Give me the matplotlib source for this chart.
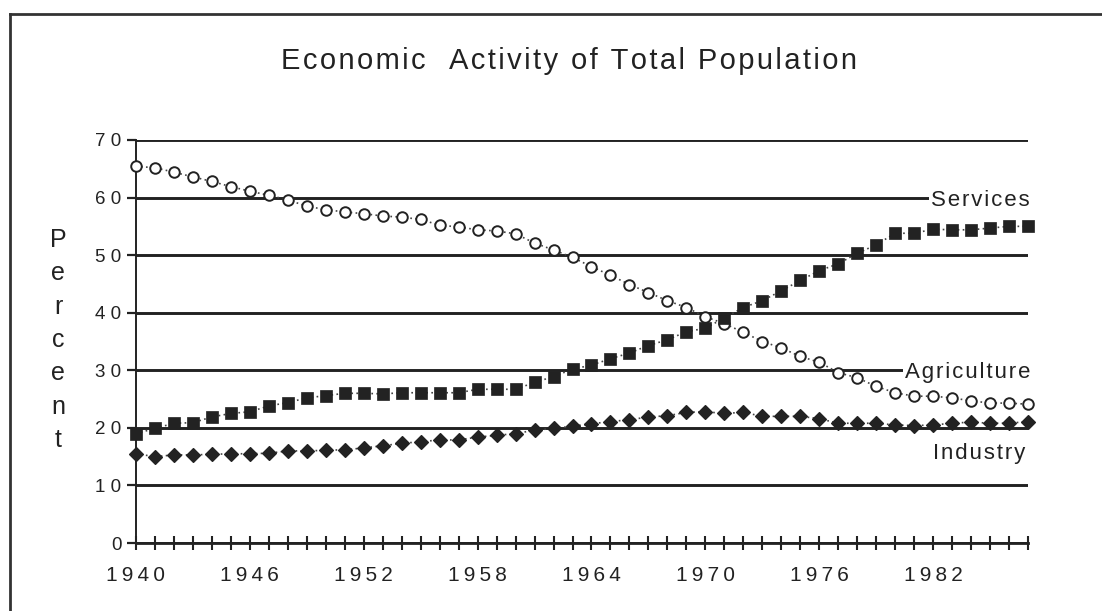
import matplotlib
matplotlib.use("Agg")
import matplotlib.pyplot as plt
from matplotlib.lines import Line2D

years = list(range(1940, 1988))
agriculture = [65.4, 65.2, 64.4, 63.6, 62.8, 61.9, 61.1, 60.4, 59.6, 58.5,
               57.9, 57.5, 57.2, 56.8, 56.6, 56.2, 55.2, 54.9, 54.4, 54.2,
               53.7, 52.1, 50.9, 49.6, 48.0, 46.5, 44.9, 43.5, 42.1, 40.9,
               39.3, 38.1, 36.6, 35.0, 33.9, 32.4, 31.4, 29.6, 28.7, 27.2,
               26.1, 25.5, 25.5, 25.2, 24.7, 24.3, 24.3, 24.1]
services = [19.0, 19.9, 20.8, 20.9, 21.9, 22.5, 22.8, 23.8, 24.4, 25.2,
            25.6, 26.0, 26.0, 25.9, 26.1, 26.1, 26.1, 26.1, 26.7, 26.7,
            26.7, 27.9, 28.9, 30.2, 30.9, 32.0, 33.0, 34.3, 35.3, 36.7,
            37.3, 39.1, 40.9, 42.1, 43.8, 45.6, 47.3, 48.5, 50.3, 51.8,
            53.8, 53.8, 54.5, 54.4, 54.4, 54.7, 55.0, 55.0]
industry = [15.5, 15.0, 15.3, 15.3, 15.4, 15.5, 15.5, 15.6, 16.0, 16.0,
            16.1, 16.2, 16.5, 16.9, 17.3, 17.6, 17.9, 17.9, 18.4, 18.7,
            19.0, 19.6, 19.9, 20.3, 20.7, 21.1, 21.4, 21.9, 22.1, 22.7,
            22.8, 22.5, 22.7, 22.0, 22.0, 22.0, 21.6, 20.8, 20.8, 20.8,
            20.5, 20.4, 20.5, 20.8, 21.0, 20.8, 20.8, 21.1]
y_ticks = [0, 10, 20, 30, 40, 50, 60, 70]
x_label_years = [1940, 1946, 1952, 1958, 1964, 1970, 1976, 1982]
title = "Economic  Activity of Total Population"
y_title = "Percent"
series_names = ["Services", "Agriculture", "Industry"]

plt.rcParams["font.family"] = ["Liberation Sans", "DejaVu Sans"]
HAIR = "\u200a"


def spaced(s, sep=HAIR):
    return sep.join(s)


INK = "#222222"
fig = plt.figure(figsize=(11.02, 6.11), dpi=100)
W, H = 1102, 611
ax = fig.add_axes([136 / W, 1 - 543 / H, (1028 - 136) / W, (543 - 140) / H])
ax.set_xlim(1940, 1987)
ax.set_ylim(0, 70)

# frame lines around the figure
fig.add_artist(Line2D([10 / W, 1.0], [1 - 14 / H, 1 - 14 / H], color="#333333", lw=2.0))
fig.add_artist(Line2D([10 / W, 10 / W], [0.0, 1 - 14 / H], color="#333333", lw=2.0))

for s in ["top", "right"]:
    ax.spines[s].set_visible(False)
ax.spines["left"].set_color(INK)
ax.spines["left"].set_linewidth(1.4)
ax.spines["bottom"].set_color(INK)
ax.spines["bottom"].set_linewidth(2.0)

ax.set_yticks(y_ticks)
ax.set_yticklabels([spaced(str(v), " ") if v >= 10 else str(v) for v in y_ticks])
ax.yaxis.grid(True, color="#222222", lw=2.1)
ax.set_axisbelow(True)
ax.tick_params(axis="y", direction="out", length=6.5, width=1.6, color=INK,
               pad=4, labelsize=13.5, labelcolor=INK)

ax.set_xticks(years)
ax.set_xticklabels([spaced(str(y), "\u2009") if y in x_label_years else "" for y in years])
ax.tick_params(axis="x", direction="inout", length=10.5, width=1.5, color=INK,
               pad=11, labelsize=15, labelcolor=INK)

line_kw = dict(color="#444444", lw=1.2, linestyle=(0, (1, 2.0)), clip_on=False)
ax.plot(years, agriculture, marker="o", ms=7.6, mfc="white", mec=INK, mew=1.4,
        zorder=3, **line_kw)
ax.plot(years, services, marker="s", ms=8.4, mfc=INK, mec=INK, mew=0.5,
        zorder=4, **line_kw)
ax.plot(years, industry, marker="D", ms=7.2, mfc=INK, mec=INK, mew=0.9,
        zorder=5, **line_kw)

lab_kw = dict(ha="right", va="center", fontsize=16, color=INK,
              bbox=dict(facecolor="white", edgecolor="none", pad=1.5), zorder=2.5)
ax.text(1987.1, 59.5, spaced(series_names[0]), **lab_kw)
ax.text(1987.1, 29.7, spaced(series_names[1]), **lab_kw)
ax.text(1986.85, 15.6, spaced(series_names[2]), **lab_kw)

fig.text(569 / W, 1 - 61 / H, spaced(title), ha="center", va="center",
         fontsize=21, color=INK)
fig.text(58 / W, 1 - 340 / H, "\n".join(y_title), ha="center", va="center",
         fontsize=18, color=INK, linespacing=1.49)

fig.savefig("out.png", dpi=100, facecolor="white")
